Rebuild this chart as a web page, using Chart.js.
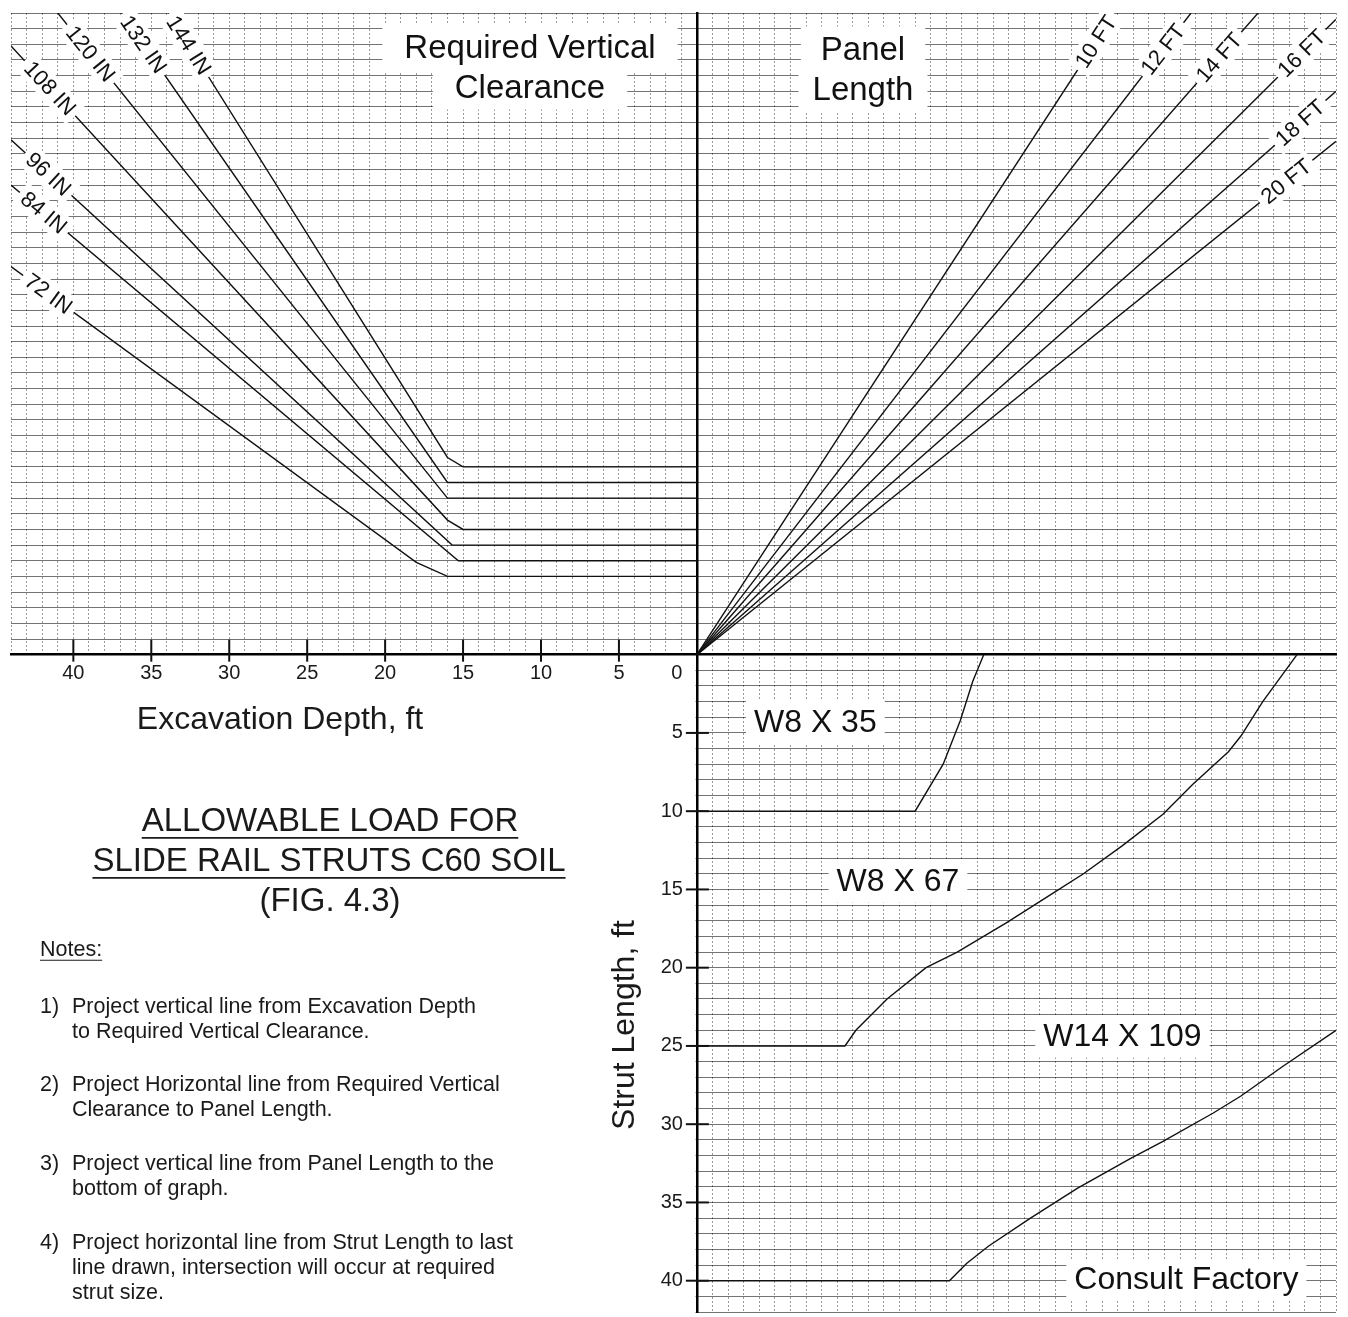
<!DOCTYPE html>
<html>
<head>
<meta charset="utf-8">
<title>Allowable Load for Slide Rail Struts C60 Soil</title>
<script src="https://cdn.jsdelivr.net/npm/chart.js"></script>
<style>
  html, body { margin: 0; padding: 0; background: #fff; overflow: hidden; }
  canvas { display: block; }
</style>
</head>
<body>
<canvas id="graph" width="1348" height="1317"></canvas>
<script>
const FONT = '"Liberation Sans", Arial, Helvetica, sans-serif';

// axis tick labels
const depthTicks = [40, 35, 30, 25, 20, 15, 10, 5, 0];
const strutTicks = [5, 10, 15, 20, 25, 30, 35, 40];

// required vertical clearance lines (excavation depth, ft  ->  load grid units)
const clearanceNames = ['72 IN', '84 IN', '96 IN', '108 IN', '120 IN', '132 IN', '144 IN'];
const clearanceDepths = [
  [44, 18, 16, 0],
  [44, 15.3, 0],
  [44, 15.7, 0],
  [44, 16, 15, 0],
  [41, 16, 0],
  [36.9, 16, 0],
  [33.9, 16, 15, 0]
];
const clearanceLoads = [
  [24.8, 5.9, 5, 5],
  [30, 6, 6],
  [32.9, 7, 7],
  [38.9, 8.6, 8, 8],
  [41, 10, 10],
  [41, 11, 11],
  [41, 12.6, 12, 12]
];
const clearanceTagDepth = [41.6, 41.9, 41.6, 41.5, 38.9, 35.5, 32.6];

// panel length rays from the origin
const panelNames = ['10 FT', '12 FT', '14 FT', '16 FT', '18 FT', '20 FT'];
const panelEndLoad = [26.8, 31.7, 36.0, 41, 41, 41];
const panelEndClear = [41, 41, 41, 40.6, 36.0, 32.8];
const panelTagLoad = [25.6, 29.9, 33.5, 38.8, 38.7, 37.8];

// strut capacity curves (load grid units  ->  strut length, ft)
const strutNames = ['W8 X 35', 'W8 X 67', 'W14 X 109'];
const w8x35Load = [0, 14, 15.8, 16.9, 17.7, 18.4];
const w8x35Len = [10, 10, 7, 4.2, 1.7, 0];
const w8x67Load = [0, 9.5, 10.2, 12.2, 14.7, 16.7, 19.9, 22.9, 24.8, 27.3, 29.9, 31.8, 34.1, 34.9, 36.3, 38.5];
const w8x67Len = [25, 25, 24, 22, 20, 19, 17.1, 15.2, 14, 12.2, 10.2, 8.3, 6.2, 5.2, 3, 0];
const w14x109Load = [0, 16.2, 17.3, 18.7, 21.4, 24.4, 27.8, 29.9, 33.1, 34.9, 37.6, 41];
const w14x109Len = [40, 40, 38.9, 37.8, 36, 34.1, 32.2, 31.1, 29.3, 28.2, 26.3, 24];
const strutTagLoad = [7.6, 12.9, 27.3];
const strutTagLen = [4.3, 14.5, 24.4];

const notes = [
  ['1)', ['Project vertical line from Excavation Depth', 'to Required Vertical Clearance.']],
  ['2)', ['Project Horizontal line from Required Vertical', 'Clearance to Panel Length.']],
  ['3)', ['Project vertical line from Panel Length to the', 'bottom of graph.']],
  ['4)', ['Project horizontal line from Strut Length to last', 'line drawn, intersection will occur at required', 'strut size.']]
];

const datasets = [];
const lineStyle = { showLine: true, pointRadius: 0, borderColor: '#111', borderWidth: 1.4, fill: false };

clearanceNames.forEach((name, i) => {
  datasets.push(Object.assign({
    label: name,
    data: clearanceDepths[i].map((d, k) => ({ x: -d, y: clearanceLoads[i][k] }))
  }, lineStyle));
});
panelNames.forEach((name, i) => {
  datasets.push(Object.assign({
    label: name,
    data: [{ x: 0, y: 0 }, { x: panelEndLoad[i], y: panelEndClear[i] }]
  }, lineStyle));
});
[[w8x35Load, w8x35Len], [w8x67Load, w8x67Len], [w14x109Load, w14x109Len]].forEach(([ld, ln], i) => {
  datasets.push(Object.assign({
    label: strutNames[i],
    data: ld.map((v, k) => ({ x: v, y: -ln[k] }))
  }, lineStyle));
});

function yOnLine(pts, xv) {
  for (let k = 0; k < pts.length - 1; k++) {
    const a = pts[k], b = pts[k + 1];
    if (xv >= a.x && xv <= b.x) {
      return { y: a.y + (b.y - a.y) * (xv - a.x) / (b.x - a.x), a, b };
    }
  }
  return { y: pts[0].y, a: pts[0], b: pts[1] };
}

function tag(ctx, str, px, py, angle, size, padX, padY) {
  ctx.save();
  ctx.translate(px, py);
  ctx.rotate(angle);
  ctx.font = size + 'px ' + FONT;
  const w = ctx.measureText(str).width;
  ctx.fillStyle = '#fff';
  ctx.fillRect(-w / 2 - padX, -size * 0.5 - padY, w + 2 * padX, size + 2 * padY);
  ctx.fillStyle = '#111';
  ctx.textAlign = 'center';
  ctx.textBaseline = 'middle';
  ctx.fillText(str, 0, 1);
  ctx.restore();
}

function text(ctx, str, px, py, size, align, underline) {
  ctx.save();
  ctx.font = size + 'px ' + FONT;
  ctx.fillStyle = '#1a1a1a';
  ctx.textAlign = align;
  ctx.textBaseline = 'middle';
  ctx.fillText(str, px, py);
  if (underline) {
    const w = ctx.measureText(str).width;
    const x1 = align === 'center' ? px - w / 2 : px;
    ctx.strokeStyle = '#1a1a1a';
    ctx.lineWidth = size > 24 ? 1.6 : 1.1;
    ctx.beginPath();
    ctx.moveTo(x1, py + size * 0.48);
    ctx.lineTo(x1 + w, py + size * 0.48);
    ctx.stroke();
  }
  ctx.restore();
}

const nomogram = {
  id: 'nomogram',
  beforeDatasetsDraw(chart) {
    // the lower left quarter carries no grid
    const { ctx, scales: { x, y } } = chart;
    const x0 = x.getPixelForValue(0), y0 = y.getPixelForValue(0);
    ctx.save();
    ctx.fillStyle = '#fff';
    ctx.fillRect(0, y0 + 1.4, x0 - 1.4, chart.height - y0);
    ctx.restore();
  },
  afterDatasetsDraw(chart) {
    const { ctx, scales: { x, y } } = chart;
    const x0 = x.getPixelForValue(0), y0 = y.getPixelForValue(0);

    // tick marks crossing the axes
    ctx.save();
    ctx.strokeStyle = '#111';
    ctx.lineWidth = 2;
    depthTicks.forEach(v => {
      if (v === 0) return;
      const px = x.getPixelForValue(-v);
      ctx.beginPath(); ctx.moveTo(px, y0 - 15); ctx.lineTo(px, y0 + 7); ctx.stroke();
    });
    strutTicks.forEach(v => {
      const py = y.getPixelForValue(-v);
      ctx.beginPath(); ctx.moveTo(x0 - 11, py); ctx.lineTo(x0 + 12, py); ctx.stroke();
    });
    ctx.restore();

    depthTicks.forEach(v => {
      const px = x.getPixelForValue(-v) - (v === 0 ? 20 : 0);
      text(ctx, String(v), px, y0 + 19, 20, 'center');
    });
    strutTicks.forEach(v => {
      text(ctx, String(v), x0 - 14, y.getPixelForValue(-v), 20, 'right');
    });

    // clearance tags along their lines
    clearanceNames.forEach((name, i) => {
      const pts = chart.data.datasets[i].data;
      const xv = -clearanceTagDepth[i];
      const hit = yOnLine(pts, xv);
      const ang = Math.atan2(y.getPixelForValue(hit.b.y) - y.getPixelForValue(hit.a.y),
                             x.getPixelForValue(hit.b.x) - x.getPixelForValue(hit.a.x));
      tag(ctx, name, x.getPixelForValue(xv), y.getPixelForValue(hit.y), ang, 22, 5, 2);
    });

    // panel length tags along the rays
    panelNames.forEach((name, i) => {
      const xv = panelTagLoad[i];
      const yv = panelEndClear[i] / panelEndLoad[i] * xv;
      const px = x.getPixelForValue(xv), py = y.getPixelForValue(yv);
      const ang = Math.atan2(py - y0, px - x0);
      tag(ctx, name, px, py, ang, 22, 5, 2);
    });

    // strut size tags
    strutNames.forEach((name, i) => {
      tag(ctx, name, x.getPixelForValue(strutTagLoad[i]), y.getPixelForValue(-strutTagLen[i]), 0, 32, 8, 5);
    });
    tag(ctx, 'Consult Factory', x.getPixelForValue(31.4), y.getPixelForValue(-39.9), 0, 32, 8, 4);

    // quadrant headings
    tag(ctx, 'Required Vertical', 530, 48, 0, 33, 22, 7);
    tag(ctx, 'Clearance', 530, 88, 0, 33, 22, 5);
    tag(ctx, 'Panel', 863, 50, 0, 33, 20, 7);
    tag(ctx, 'Length', 863, 90, 0, 33, 14, 5);

    // axis titles
    text(ctx, 'Excavation Depth, ft', 280, 720, 32, 'center');
    ctx.save();
    ctx.translate(625, 1025);
    ctx.rotate(-Math.PI / 2);
    text(ctx, 'Strut Length, ft', 0, 0, 32, 'center');
    ctx.restore();

    // figure title
    text(ctx, 'ALLOWABLE LOAD FOR', 330, 822, 33, 'center', true);
    text(ctx, 'SLIDE RAIL STRUTS C60 SOIL', 329, 862, 33, 'center', true);
    text(ctx, '(FIG. 4.3)', 330, 902, 33, 'center');

    // notes
    text(ctx, 'Notes:', 40, 950, 21.5, 'left', true);
    const noteTop = [1007, 1085, 1164, 1243];
    notes.forEach(([num, lines], i) => {
      text(ctx, num, 40, noteTop[i], 21.5, 'left');
      lines.forEach((ln, k) => text(ctx, ln, 72, noteTop[i] + k * 25, 21.5, 'left'));
    });
  }
};

new Chart(document.getElementById('graph'), {
  type: 'scatter',
  data: { datasets },
  options: {
    responsive: false,
    animation: false,
    events: [],
    layout: { padding: { left: 11, right: 12, top: 13, bottom: 5 } },
    plugins: { legend: { display: false }, tooltip: { enabled: false } },
    scales: {
      x: {
        type: 'linear',
        min: -44,
        max: 41,
        position: { y: 0 },
        ticks: { display: false, stepSize: 1, autoSkip: false },
        grid: { color: 'rgba(0,0,0,0.4)', lineWidth: 1, drawTicks: false },
        border: { display: true, color: '#000', width: 2.5, dash: [2, 2] }
      },
      y: {
        type: 'linear',
        min: -42,
        max: 41,
        position: { x: 0 },
        ticks: { display: false, stepSize: 1, autoSkip: false },
        grid: { color: 'rgba(0,0,0,0.55)', lineWidth: 1, drawTicks: false },
        border: { display: true, color: '#000', width: 2.5 }
      }
    }
  },
  plugins: [nomogram]
});
</script>
</body>
</html>
